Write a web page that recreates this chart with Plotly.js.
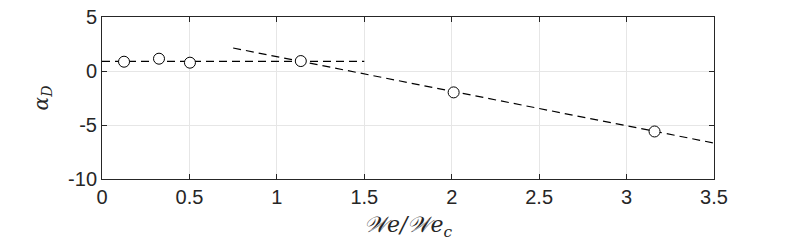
<!DOCTYPE html>
<html><head><meta charset="utf-8">
<script src="https://cdn.plot.ly/plotly-3.0.1.min.js"></script>
<style>html,body{margin:0;padding:0;background:#fff;}</style>
</head><body>
<div id="chart" style="width:789px;height:241px;"></div>
<script>
var ptX = [0.126, 0.326, 0.503, 1.137, 2.011, 3.16];
var ptY = [0.86, 1.14, 0.77, 0.92, -1.98, -5.6];
var flatX = [0, 1.5];
var flatY = [0.9, 0.9];
var slopeX = [0.75, 3.5];
var slopeY = [2.13, -6.67];
var xTicks = [0, 0.5, 1, 1.5, 2, 2.5, 3, 3.5];
var xTickText = ['0', '0.5', '1', '1.5', '2', '2.5', '3', '3.5'];
var yTicks = [-10, -5, 0, 5];
var yTickText = ['-10', '-5', '0', '5'];

var data = [
  {x: flatX, y: flatY, mode: 'lines', line: {color: '#000', dash: '8px,5px', width: 1.2}, hoverinfo: 'none'},
  {x: slopeX, y: slopeY, mode: 'lines', line: {color: '#000', dash: '8px,5px', width: 1.2}, hoverinfo: 'none'},
  {x: ptX, y: ptY, mode: 'markers', marker: {symbol: 'circle', size: 11, color: '#fff', line: {color: '#000', width: 1}}}
];
var layout = {
  width: 789, height: 241,
  margin: {l: 102, r: 75, t: 17, b: 62},
  showlegend: false,
  paper_bgcolor: '#fff', plot_bgcolor: '#fff',
  font: {family: 'Liberation Sans, Arial, sans-serif', size: 20, color: '#262626'},
  xaxis: {range: [0, 3.5], tickvals: xTicks, ticktext: xTickText, showgrid: true, gridcolor: '#e6e6e6', gridwidth: 1,
          zeroline: false, showline: true, linecolor: '#262626', linewidth: 1, mirror: 'ticks', ticks: 'inside', ticklen: 5, tickcolor: '#262626',
          tickfont: {size: 20},
          title: {text: '<i>𝒲e/𝒲e<sub>c</sub></i>', font: {family: 'DejaVu Serif, serif', size: 22, color: '#262626'}, standoff: 9}},
  yaxis: {range: [-10, 5], tickvals: yTicks, ticktext: yTickText, showgrid: true, gridcolor: '#e6e6e6', gridwidth: 1,
          zeroline: false, showline: true, linecolor: '#262626', linewidth: 1, mirror: 'ticks', ticks: 'inside', ticklen: 5, tickcolor: '#262626',
          tickfont: {size: 20},
          title: {text: '<i>α<sub>D</sub></i>', font: {family: 'DejaVu Serif, serif', size: 20, color: '#262626'}, standoff: 14}}
};
Plotly.newPlot('chart', data, layout, {staticPlot: true});
</script>
</body></html>
